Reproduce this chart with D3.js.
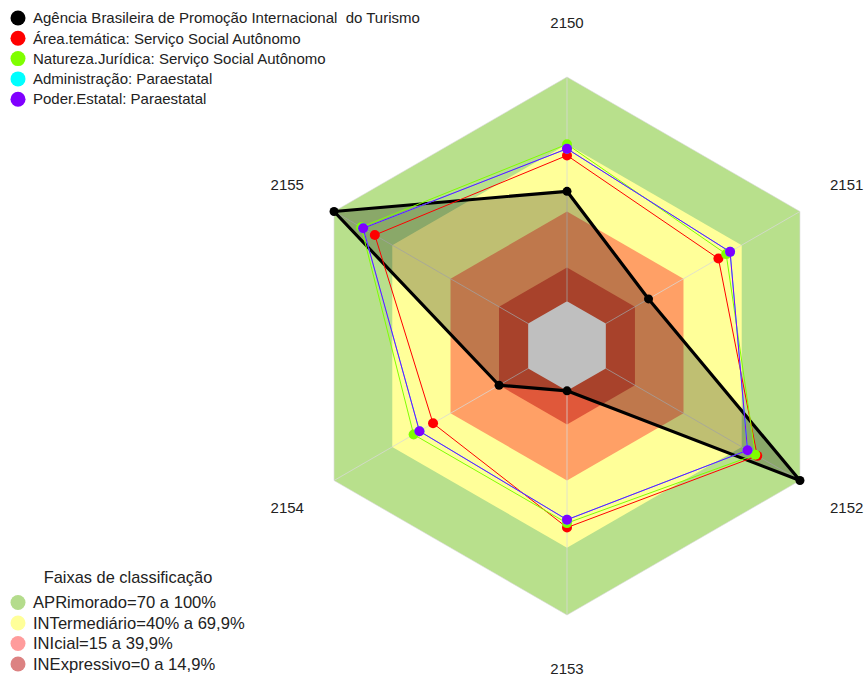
<!DOCTYPE html>
<html>
<head>
<meta charset="utf-8">
<script src="https://cdn.jsdelivr.net/npm/d3@7"></script>
<style>
  body { margin: 0; background: #fff; }
  text { font-family: "Liberation Sans", Arial, sans-serif; white-space: pre; }
</style>
</head>
<body>
<div class="canvas"></div>
<script>
// axes of the radar (clockwise from top)
const axes = ['2150', '2151', '2152', '2153', '2154', '2155'];

// series, in legend order
const seriesNames = [
  'Agência Brasileira de Promoção Internacional  do Turismo',
  'Área.temática: Serviço Social Autônomo',
  'Natureza.Jurídica: Serviço Social Autônomo',
  'Administração: Paraestatal',
  'Poder.Estatal: Paraestatal',
];
const agencia = [49, 22, 100, 0, 15, 100];
const areaTematica = [65, 58, 78, 61, 49, 79];
const naturezaJuridica = [70, 62, 77, 59, 59, 86];
const administracao = [68, 64, 73, 57.5, 56, 85];
const poderEstatal = [68, 64, 73, 57.5, 56, 85];
const seriesValues = [agencia, areaTematica, naturezaJuridica, administracao, poderEstatal];
const seriesColours = ['#000000', '#ff0000', '#7fff00', '#00ffff', '#8000ff'];

// classification bands
const bandLabels = [
  'APRimorado=70 a 100%',
  'INTermediário=40% a 69,9%',
  'INIcial=15 a 39,9%',
  'INExpressivo=0 a 14,9%',
];
const bandUpper = [100, 70, 40, 15];
const bandFill = ['#b8e08c', '#ffff99', '#ffa066', '#e0583a'];
const bandLegendFill = ['#b4dc8c', '#ffff99', '#ff9c9c', '#dc8282'];

const dims = { width: 867, height: 680, radius: 269 };
const center = { x: 567, y: 346 };

const svg = d3.select('.canvas')
  .append('svg')
  .attr('width', dims.width)
  .attr('height', dims.height);

const graph = svg.append('g')
  .attr('transform', `translate(${center.x}, ${center.y})`);

// radial scale starts below zero, like the original
const rScale = d3.scaleLinear().domain([-20, 100]).range([0, dims.radius]);
const angle = (i) => (i * 2 * Math.PI) / axes.length;

const hexagon = (value) => d3.lineRadial()
  .angle((d, i) => angle(i))
  .radius(() => rScale(value))
  .curve(d3.curveLinearClosed)(axes);

// band hexagons, outer to inner
graph.selectAll('path.band')
  .data(bandUpper)
  .enter()
  .append('path')
  .attr('class', 'band')
  .attr('d', (d) => hexagon(d))
  .attr('fill', (d, i) => bandFill[i]);

// empty centre
graph.append('path')
  .attr('d', hexagon(0))
  .attr('fill', '#fff');

// spokes
graph.selectAll('line.spoke')
  .data(axes)
  .enter()
  .append('line')
  .attr('class', 'spoke')
  .attr('x1', (d, i) => d3.pointRadial(angle(i), rScale(0))[0])
  .attr('y1', (d, i) => d3.pointRadial(angle(i), rScale(0))[1])
  .attr('x2', (d, i) => d3.pointRadial(angle(i), rScale(100))[0])
  .attr('y2', (d, i) => d3.pointRadial(angle(i), rScale(100))[1])
  .attr('stroke', '#d8d8d8')
  .attr('stroke-opacity', 0.75)
  .attr('stroke-width', 1);

// faint grid outline at the outer edge
graph.append('path')
  .attr('d', hexagon(100))
  .attr('fill', 'none')
  .attr('stroke', '#d8d8d8')
  .attr('stroke-opacity', 0.6);

// axis labels
graph.selectAll('text.axis')
  .data(axes)
  .enter()
  .append('text')
  .attr('class', 'axis')
  .attr('x', (d, i) => d3.pointRadial(angle(i), rScale(100) + 54)[0])
  .attr('y', (d, i) => d3.pointRadial(angle(i), rScale(100) + 54)[1])
  .attr('text-anchor', 'middle')
  .attr('dy', '0.35em')
  .attr('font-size', 15)
  .attr('fill', '#222')
  .text((d) => d);

const radarLine = d3.lineRadial()
  .angle((d, i) => angle(i))
  .radius((d) => rScale(d))
  .curve(d3.curveLinearClosed);

// series polygons
const series = graph.selectAll('g.series')
  .data(seriesValues)
  .enter()
  .append('g')
  .attr('class', 'series');

series.append('path')
  .attr('d', (d) => radarLine(d))
  .attr('fill', (d, i) => (i === 0 ? 'rgba(0,0,0,0.25)' : 'none'))
  .attr('stroke', (d, i) => seriesColours[i])
  .attr('stroke-width', (d, i) => (i === 0 ? 3.2 : 1))
  .attr('stroke-linejoin', 'round');

series.each(function (values, s) {
  d3.select(this).selectAll('circle')
    .data(values)
    .enter()
    .append('circle')
    .attr('cx', (d, i) => d3.pointRadial(angle(i), rScale(d))[0])
    .attr('cy', (d, i) => d3.pointRadial(angle(i), rScale(d))[1])
    .attr('r', s === 0 ? 4.5 : 5)
    .attr('fill', seriesColours[s]);
});

// series legend
const legend = svg.append('g').attr('transform', 'translate(18, 18)');
const legendRows = legend.selectAll('g')
  .data(seriesNames)
  .enter()
  .append('g')
  .attr('transform', (d, i) => `translate(0, ${i * 20.3})`);
legendRows.append('circle')
  .attr('r', 7.5)
  .attr('fill', (d, i) => seriesColours[i]);
legendRows.append('text')
  .attr('x', 15)
  .attr('dy', '0.35em')
  .attr('font-size', 15)
  .attr('fill', '#222')
  .text((d) => d);

// band legend
svg.append('text')
  .attr('x', 128)
  .attr('y', 577)
  .attr('dy', '0.35em')
  .attr('text-anchor', 'middle')
  .attr('font-size', 16.4)
  .attr('fill', '#222')
  .text('Faixas de classificação');

const bandLegend = svg.append('g').attr('transform', 'translate(18, 602.5)');
const bandRows = bandLegend.selectAll('g')
  .data(bandLabels)
  .enter()
  .append('g')
  .attr('transform', (d, i) => `translate(0, ${i * 20.5})`);
bandRows.append('circle')
  .attr('r', 7.5)
  .attr('fill', (d, i) => bandLegendFill[i]);
bandRows.append('text')
  .attr('x', 15)
  .attr('dy', '0.35em')
  .attr('font-size', 16.6)
  .attr('fill', '#222')
  .text((d) => d);
</script>
</body>
</html>
